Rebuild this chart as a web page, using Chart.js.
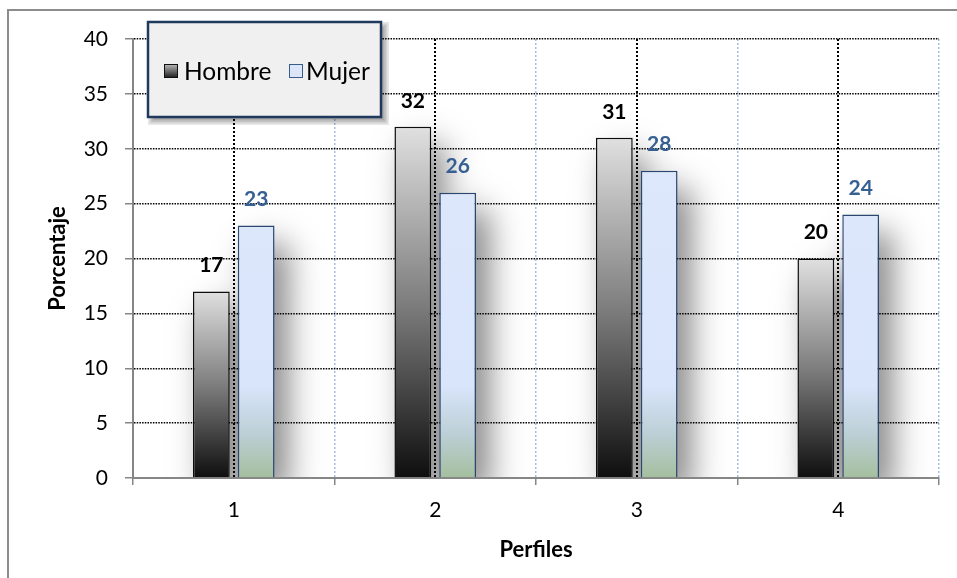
<!DOCTYPE html>
<html>
<head>
<meta charset="utf-8">
<script src="https://cdn.jsdelivr.net/npm/chart.js@4.4.1/dist/chart.umd.min.js"></script>
<style>
  html, body { margin: 0; padding: 0; background: #ffffff; }
  #wrap { position: relative; width: 957px; height: 578px; }
</style>
</head>
<body>
<div id="wrap"><canvas id="c" width="957" height="578"></canvas></div>
<script>
// Profiles on the category axis
const categories = ['1', '2', '3', '4'];
// Percentage per profile and sex
const hombre = [17, 32, 31, 20];
const mujer = [23, 26, 28, 24];
// Value axis range
const yMin = 0;
const yMax = 40;
const yStep = 5;
const seriesNames = ['Hombre', 'Mujer'];

const FONT = 'Lato, "Open Sans", sans-serif';

// Dark bars: light grey at the top fading to black at the base of each bar
function hombreFill(ctx) {
  const chart = ctx.chart;
  if (!chart.chartArea || ctx.type !== 'data') return '#808080';
  const y = chart.scales.y;
  const top = y.getPixelForValue(ctx.raw);
  const base = y.getPixelForValue(0);
  const g = chart.ctx.createLinearGradient(0, top, 0, base);
  g.addColorStop(0, '#e0e0e0');
  g.addColorStop(0.5, '#7e7e7e');
  g.addColorStop(1, '#0e0e0e');
  return g;
}

// Light bars: pale blue turning sage green near the axis
function mujerFill(ctx) {
  const chart = ctx.chart;
  if (!chart.chartArea) return '#dce6f8';
  const y = chart.scales.y;
  const g = chart.ctx.createLinearGradient(0, y.getPixelForValue(0), 0, y.getPixelForValue(yMax));
  g.addColorStop(0, '#a4bf9e');
  g.addColorStop(0.1, '#bccfd6');
  g.addColorStop(0.21, '#d9e5fb');
  g.addColorStop(1, '#dfe9fc');
  return g;
}

function erf(x) {
  const s = x < 0 ? -1 : 1;
  x = Math.abs(x);
  const t = 1 / (1 + 0.3275911 * x);
  const y = 1 - (((((1.061405429 * t - 1.453152027) * t) + 1.421413741) * t - 0.284496736) * t + 0.254829592) * t * Math.exp(-x * x);
  return s * y;
}

// Coverage of a gaussian-blurred interval [lo, hi] at position p
function blurCover(p, lo, hi, sigma) {
  const k = sigma * Math.SQRT2;
  return 0.5 * (erf((p - lo) / k) - erf((p - hi) / k));
}

const SHADOW = { dx: 13, dy: 18, sigma: 16, strength: 0.5 };

// White background, outer frame and the blurred bar shadows (under the grid)
const backdropPlugin = {
  id: 'backdrop',
  beforeDraw(chart) {
    const c = chart.ctx, a = chart.chartArea;
    c.save();
    c.fillStyle = '#ffffff';
    c.fillRect(0, 0, chart.width, chart.height);
    c.strokeStyle = '#8c8c8c';
    c.lineWidth = 2;
    c.beginPath();
    c.moveTo(8, chart.height);
    c.lineTo(8, 10);
    c.lineTo(chart.width, 10);
    c.stroke();
    c.restore();

    const w = Math.round(a.right - a.left), h = Math.round(a.bottom - a.top);
    const off = document.createElement('canvas');
    off.width = w; off.height = h;
    const octx = off.getContext('2d');
    const img = octx.createImageData(w, h);
    const acc = new Float32Array(w * h);
    chart.data.datasets.forEach((ds, i) => {
      chart.getDatasetMeta(i).data.forEach(el => {
        const p = el.getProps(['x', 'y', 'base', 'width'], true);
        const l = p.x - p.width / 2 + SHADOW.dx - a.left;
        const r = p.x + p.width / 2 + SHADOW.dx - a.left;
        const t = p.y + SHADOW.dy - a.top;
        const b = p.base + SHADOW.dy - a.top;
        const sx = new Float32Array(w), sy = new Float32Array(h);
        for (let ix = 0; ix < w; ix++) sx[ix] = blurCover(ix + 0.5, l, r, SHADOW.sigma);
        for (let iy = 0; iy < h; iy++) sy[iy] = blurCover(iy + 0.5, t, b, SHADOW.sigma);
        for (let iy = 0; iy < h; iy++) {
          const vy = sy[iy];
          if (vy < 0.002) continue;
          for (let ix = 0; ix < w; ix++) {
            const v = SHADOW.strength * sx[ix] * vy;
            if (v < 0.001) continue;
            const idx = iy * w + ix;
            acc[idx] = 1 - (1 - acc[idx]) * (1 - v);
          }
        }
      });
    });
    for (let n = 0; n < w * h; n++) {
      img.data[n * 4 + 3] = Math.round(acc[n] * 255);
    }
    octx.putImageData(img, 0, 0);
    c.drawImage(off, Math.round(a.left), Math.round(a.top));
  }
};

// Dotted guide lines through the centre of every category
const centreLinesPlugin = {
  id: 'centreLines',
  beforeDatasetsDraw(chart) {
    const c = chart.ctx, a = chart.chartArea, x = chart.scales.x;
    c.save();
    c.strokeStyle = '#000000';
    c.lineWidth = 2;
    c.setLineDash([2, 2]);
    categories.forEach((_, i) => {
      const px = Math.round(x.getPixelForValue(i));
      c.beginPath();
      c.moveTo(px, a.top);
      c.lineTo(px, a.bottom);
      c.stroke();
    });
    c.restore();
  }
};

// Value labels above each bar
const valueLabelPlugin = {
  id: 'valueLabels',
  afterDatasetsDraw(chart) {
    const c = chart.ctx;
    chart.data.datasets.forEach((ds, i) => {
      const meta = chart.getDatasetMeta(i);
      meta.data.forEach((el, j) => {
        c.save();
        c.font = 'bold 21px ' + FONT;
        c.fillStyle = ds.labelColor;
        c.textAlign = 'center';
        c.textBaseline = 'middle';
        c.fillText(String(Math.round(ds.data[j])), el.x, el.y - 26);
        c.restore();
      });
    });
  }
};

// Soft-edged rectangle built from stacked translucent layers
function softRect(c, x, y, w, h, spread, steps, alpha) {
  c.fillStyle = 'rgba(0,0,0,' + alpha + ')';
  for (let k = 0; k < steps; k++) {
    const e = -spread / 2 + spread * k / (steps - 1);
    c.fillRect(x - e, y - e, w + 2 * e, h + 2 * e);
  }
}

// Boxed legend floating in the upper left of the plot
const legendBoxPlugin = {
  id: 'legendBox',
  afterDraw(chart) {
    const c = chart.ctx;
    const bx = 148, by = 22, bw = 233, bh = 95;
    c.save();
    softRect(c, bx + 4, by + 4, bw, bh, 8, 6, 0.09);
    c.fillStyle = '#f0f0f0';
    c.fillRect(bx, by, bw, bh);
    c.strokeStyle = '#1f3a5c';
    c.lineWidth = 2.5;
    c.strokeRect(bx, by, bw, bh);

    const cy = 71;
    // Hombre swatch
    const g = c.createLinearGradient(0, cy - 7, 0, cy + 7);
    g.addColorStop(0, '#bdbdbd');
    g.addColorStop(1, '#1a1a1a');
    c.fillStyle = g;
    c.fillRect(164, cy - 7, 14, 14);
    c.strokeStyle = '#111111';
    c.lineWidth = 1;
    c.strokeRect(164.5, cy - 6.5, 13, 13);
    // Mujer swatch
    c.fillStyle = '#dce6f8';
    c.fillRect(289, cy - 7, 14, 14);
    c.strokeStyle = '#385d8a';
    c.strokeRect(289.5, cy - 6.5, 13, 13);

    c.fillStyle = '#000000';
    c.font = '24.5px ' + FONT;
    c.textAlign = 'left';
    c.textBaseline = 'middle';
    c.fillText(seriesNames[0], 184, cy + 1);
    c.fillText(seriesNames[1], 306, cy + 1);
    c.restore();
  }
};

new Chart(document.getElementById('c'), {
  type: 'bar',
  data: {
    labels: categories,
    datasets: [
      {
        label: seriesNames[0],
        data: hombre,
        backgroundColor: hombreFill,
        borderColor: '#0d0d0d',
        borderWidth: 1.5,
        labelColor: '#000000',
        categoryPercentage: 0.445,
        barPercentage: 0.82
      },
      {
        label: seriesNames[1],
        data: mujer,
        backgroundColor: mujerFill,
        borderColor: '#2a4770',
        borderWidth: 1.5,
        labelColor: '#376092',
        categoryPercentage: 0.445,
        barPercentage: 0.82
      }
    ]
  },
  options: {
    responsive: false,
    animation: false,
    devicePixelRatio: 1,
    layout: { padding: { left: 0, right: 18, top: 39, bottom: 0 } },
    plugins: {
      legend: { display: false },
      tooltip: { enabled: false }
    },
    scales: {
      x: {
        afterFit(s) { s.height = 100; },
        grid: {
          offset: true,
          color: '#a3bde6',
          lineWidth: 1.5,
          tickColor: '#868686',
          tickWidth: 1.5,
          tickBorderDash: [],
          tickLength: 7
        },
        border: { display: true, color: '#868686', width: 2, dash: [2, 2] },
        ticks: { color: '#000000', font: { family: FONT, size: 21 }, padding: 13 },
        title: {
          display: true,
          text: 'Perfiles',
          color: '#000000',
          font: { family: FONT, size: 22, weight: 'bold' },
          padding: { top: 0, bottom: 15 }
        }
      },
      y: {
        min: yMin,
        max: yMax,
        afterFit(s) { s.width = 133; },
        grid: {
          color: '#000000',
          lineWidth: 1.5,
          tickColor: '#868686',
          tickWidth: 1.5,
          tickBorderDash: [],
          tickLength: 8
        },
        border: { display: true, color: '#868686', width: 2, dash: [1.5, 1.2] },
        ticks: { stepSize: yStep, color: '#000000', font: { family: FONT, size: 21 }, padding: 17 },
        title: {
          display: true,
          text: 'Porcentaje',
          color: '#000000',
          font: { family: FONT, size: 22, weight: 'bold' },
          padding: { top: 45, bottom: 0 }
        }
      }
    }
  },
  plugins: [backdropPlugin, centreLinesPlugin, valueLabelPlugin, legendBoxPlugin]
});
</script>
</body>
</html>
